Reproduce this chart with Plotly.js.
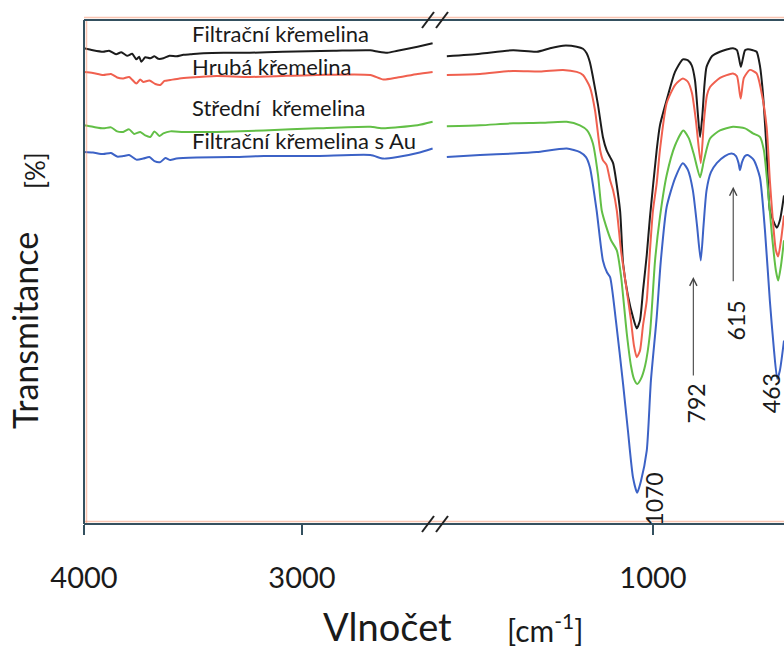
<!DOCTYPE html>
<html>
<head>
<meta charset="utf-8">
<script src="https://cdn.plot.ly/plotly-3.0.1.min.js"></script>
<style>html,body{margin:0;padding:0;background:#fff;}#chart{width:784px;height:652px;}</style>
</head>
<body>
<div id="chart"></div>
<script>
// ---- Data: wavenumber [cm-1] and transmittance (arbitrary %, offset spectra) ----
const filtracniWn = [4000,3959,3912,3885,3853,3829,3802,3779,3760,3747,3737,3719,3696,3677,3659,3636,3608,3576,3544,3512,3452,3359,3240,3088,2857,2687,2650,2608,2562,2470,2401,
  1889,1746,1603,1501,1444,1388,1329,1302,1286,1272,1259,1237,1216,1200,1185,1172,1142,1129,1108,1086,1070,1056,1043,1027,1013,984,970,941,905,871,849,833,819,806,797,787,778,769,746,711,655,638,629,621,612,603,591,569,553,539,526,510,496,478,466,453,435];
const filtracniT = [94.4,94.0,93.7,93.9,93.2,93.6,92.9,93.3,92.2,92.7,91.7,92.6,92.4,92.8,92.3,92.4,92.9,92.8,93.1,93.2,93.4,93.5,93.5,93.7,93.9,94.0,93.7,93.5,93.9,94.7,95.4,
  92.8,93.3,94.0,93.7,94.4,94.9,94.7,94.3,93.4,91.6,88.7,83.1,76.8,74.2,72.8,71.6,62.2,51.7,45.3,41.0,38.8,40.4,46.3,53.3,60.9,74.2,79.1,84.1,89.7,92.2,92.0,91.0,88.1,81.1,76.8,81.1,87.1,90.7,92.8,93.7,94.4,94.0,92.4,90.7,92.4,94.0,94.2,94.0,93.7,91.0,85.5,74.2,62.2,59.8,58.8,60.2,65.2];

const hrubaWn = [4000,3959,3912,3876,3848,3820,3793,3760,3742,3728,3700,3673,3650,3631,3604,3562,3512,3392,3240,2931,2687,2627,2562,2470,2401,
  1889,1746,1603,1487,1388,1329,1302,1272,1250,1228,1216,1200,1185,1172,1156,1138,1113,1095,1082,1070,1056,1043,1027,1013,1000,984,970,941,905,871,849,832,815,794,780,767,754,711,655,638,622,608,582,553,534,510,496,483,470,460,448,435];
const hrubaT = [89.7,89.5,89.1,89.3,88.6,88.4,88.7,87.4,88.2,87.7,88.0,87.3,87.1,87.9,88.1,88.4,88.6,88.9,88.7,89.1,89.1,88.2,88.6,89.3,89.7,
  89.1,89.3,89.9,89.8,90.1,89.7,89.1,86.7,82.1,74.2,72.2,71.2,68.2,66.2,62.2,54.3,46.3,40.4,35.4,33.1,34.4,39.4,44.3,54.3,62.2,67.6,74.2,83.5,87.1,88.4,87.7,85.5,80.1,71.6,80.1,85.1,86.7,88.5,89.4,88.9,84.4,88.5,90.1,89.4,86.1,78.8,68.2,60.2,54.3,53.1,56.3,61.2];

const stredniWn = [4000,3959,3912,3876,3848,3820,3793,3770,3742,3719,3696,3677,3654,3636,3604,3544,3392,3175,2931,2687,2627,2562,2470,2401,
  1889,1746,1603,1487,1372,1315,1284,1259,1237,1221,1203,1181,1156,1138,1113,1095,1082,1068,1052,1034,1013,991,970,941,905,869,845,823,797,780,754,711,655,603,569,539,522,504,487,470,460,448,435];
const stredniT = [79.1,78.8,78.5,78.7,77.9,77.8,78.3,77.4,77.8,77.1,76.8,77.9,77.0,77.5,77.9,77.8,77.8,78.1,78.5,78.8,78.5,78.7,79.1,79.8,
  78.9,79.1,79.5,79.6,79.8,79.1,78.1,75.5,69.2,62.2,59.2,56.3,54.3,49.3,37.8,31.4,28.8,27.8,28.8,31.4,37.8,52.3,60.9,69.2,75.1,78.1,76.5,73.2,68.8,72.2,76.5,78.1,78.8,78.5,77.5,76.8,74.2,66.2,57.3,50.3,48.3,51.3,56.3];

const auWn = [4000,3959,3912,3876,3848,3820,3793,3760,3728,3700,3677,3650,3627,3604,3576,3484,3327,3175,2931,2687,2627,2562,2470,2401,
  1889,1746,1603,1501,1372,1315,1289,1272,1243,1216,1198,1185,1160,1129,1108,1086,1068,1052,1027,1009,984,966,941,905,871,849,828,810,794,782,769,750,725,690,661,642,631,625,616,603,591,565,539,517,496,478,464,453,435];
const auT = [73.8,73.7,73.4,73.6,72.9,73.0,73.2,72.3,72.5,72.8,72.0,71.8,72.6,72.2,72.5,72.7,72.8,73.0,73.0,73.2,72.5,72.8,73.6,74.5,
  72.8,73.2,73.5,73.8,74.5,73.8,72.8,70.8,62.2,52.3,49.9,49.0,40.4,27.8,18.5,9.2,6.2,8.5,14.5,28.4,41.0,52.3,62.9,68.6,71.6,70.2,66.2,59.2,52.3,59.2,66.2,69.8,71.6,73.0,73.5,73.0,71.6,70.2,71.8,73.0,73.2,72.2,68.8,58.2,44.3,34.4,28.8,30.4,36.4];

const seriesNames = ['Filtrační křemelina','Hrubá křemelina','Střední  křemelina','Filtrační křemelina s Au'];
const seriesColors = ['#1c1c1c','#f0604f','#62bf46','#3c62c6'];
const seriesWn = [filtracniWn, hrubaWn, stredniWn, auWn];
const seriesT = [filtracniT, hrubaT, stredniT, auT];
const labelT = [97.4, 90.8, 82.6, 76.0];

const peakWn = [1070, 792, 615, 463];
const peakLabelPos = [[996, 5.0], [815, 23.9], [642, 40.4], [490, 26.0]];

const xTickHigh = [4000, 3000];
const xTickLow = [1000];
const breakWn = 2000;

// ---- Build traces (each spectrum split across the axis break) ----
const traces = [];
seriesNames.forEach((name, i) => {
  const wn = seriesWn[i], t = seriesT[i];
  const hx = [], hy = [], lx = [], ly = [];
  wn.forEach((w, k) => { if (w > breakWn) { hx.push(w); hy.push(t[k]); } else { lx.push(w); ly.push(t[k]); } });
  const line = {color: seriesColors[i], width: 2, shape: 'spline', smoothing: 0.6};
  traces.push({x: hx, y: hy, type: 'scatter', mode: 'lines', name: name, line: line, xaxis: 'x', yaxis: 'y', hoverinfo: 'skip'});
  traces.push({x: lx, y: ly, type: 'scatter', mode: 'lines', name: name, line: line, xaxis: 'x2', yaxis: 'y', hoverinfo: 'skip', showlegend: false});
});

const font = 'Lato, Carlito, "Open Sans", sans-serif';
const ink = '#1a1a1a';
const frame = '#34505f';
const glow = 'rgba(244,150,115,0.55)';
const split = (435 - 84) / 700;

const axCommon = {
  ticks: 'outside', ticklen: 10, tickwidth: 1.5, tickcolor: frame,
  showgrid: false, zeroline: false, showline: false,
  tickfont: {family: font, size: 29, color: ink}, ticklabelstandoff: 18,
  anchor: 'y', fixedrange: true
};

const annotations = [];
seriesNames.forEach((name, i) => {
  annotations.push({text: name, xref: 'x', yref: 'y', x: 3514, y: labelT[i], xanchor: 'left', yanchor: 'middle',
    showarrow: false, font: {family: font, size: 22, color: ink}});
});
peakWn.forEach((p, i) => {
  annotations.push({text: String(p), xref: 'x2', yref: 'y', x: peakLabelPos[i][0], y: peakLabelPos[i][1],
    textangle: -90, showarrow: false, font: {family: font, size: 23, color: ink}});
});
// arrows for 792 and 615
annotations.push({text: '', xref: 'x2', yref: 'y', x: 826, y: 49.0, ax: 0, ay: 100, showarrow: true,
  arrowhead: 5, arrowsize: 1.3, arrowwidth: 1.1, arrowcolor: '#444'});
annotations.push({text: '', xref: 'x2', yref: 'y', x: 654, y: 66.9, ax: 0, ay: 96, showarrow: true,
  arrowhead: 5, arrowsize: 1.3, arrowwidth: 1.1, arrowcolor: '#444'});
// axis titles
annotations.push({text: 'Vlnočet', xref: 'paper', yref: 'paper', x: (387 - 84) / 700, y: (524 - 626) / 504,
  xanchor: 'center', yanchor: 'middle', showarrow: false, font: {family: font, size: 38, color: ink}});
annotations.push({text: '[cm<sup>-1</sup>]', xref: 'paper', yref: 'paper', x: (545 - 84) / 700, y: (524 - 628) / 504,
  xanchor: 'center', yanchor: 'middle', showarrow: false, font: {family: font, size: 30, color: ink}});
annotations.push({text: 'Transmitance', xref: 'paper', yref: 'paper', x: (24 - 84) / 700, y: (524 - 331) / 504,
  xanchor: 'center', yanchor: 'middle', textangle: -90, showarrow: false, font: {family: font, size: 34, color: ink}});
annotations.push({text: '[%]', xref: 'paper', yref: 'paper', x: (35 - 84) / 700, y: (524 - 170) / 504,
  xanchor: 'center', yanchor: 'middle', textangle: -90, showarrow: false, font: {family: font, size: 26, color: ink}});

const px = 1 / 504, pxx = 1 / 700;
const shapes = [
  {type: 'line', xref: 'paper', yref: 'paper', x0: 0, x1: 1, y0: 1 + 2.5 * px, y1: 1 + 2.5 * px, line: {color: glow, width: 1.5}},
  {type: 'line', xref: 'paper', yref: 'paper', x0: 0, x1: 1, y0: 2.5 * px, y1: 2.5 * px, line: {color: glow, width: 1.5}},
  {type: 'line', xref: 'paper', yref: 'paper', x0: 2.5 * pxx, x1: 2.5 * pxx, y0: 0, y1: 1, line: {color: glow, width: 1.5}},
  {type: 'line', xref: 'paper', yref: 'paper', x0: 0, x1: 1, y0: 1, y1: 1, line: {color: frame, width: 2}},
  {type: 'line', xref: 'paper', yref: 'paper', x0: 0, x1: 1, y0: 0, y1: 0, line: {color: frame, width: 2}},
  {type: 'line', xref: 'paper', yref: 'paper', x0: 0, x1: 0, y0: 0, y1: 1, line: {color: frame, width: 2}}
];
[(428 - 84) / 700, (442 - 84) / 700].forEach(xc => {
  [0, 1].forEach(yc => {
    shapes.push({type: 'line', xref: 'paper', yref: 'paper', xsizemode: 'pixel', ysizemode: 'pixel',
      xanchor: xc, yanchor: yc, x0: -6, x1: 6, y0: -8, y1: 8, line: {color: '#222', width: 2}});
  });
});

const layout = {
  width: 784, height: 652,
  margin: {l: 84, r: 0, t: 20, b: 128, pad: 0},
  paper_bgcolor: '#fff', plot_bgcolor: '#fff',
  showlegend: false,
  font: {family: font, color: ink},
  xaxis: Object.assign({}, axCommon, {domain: [0, split], range: [4000, 2390], tickvals: xTickHigh, ticktext: xTickHigh.map(String)}),
  xaxis2: Object.assign({}, axCommon, {domain: [split, 1], range: [1940, 435], tickvals: xTickLow, ticktext: xTickLow.map(String)}),
  yaxis: {range: [0, 100], showticklabels: false, ticks: '', showgrid: false, zeroline: false, showline: false, fixedrange: true},
  shapes: shapes,
  annotations: annotations
};

Plotly.newPlot('chart', traces, layout, {displayModeBar: false, staticPlot: true});
</script>
</body>
</html>
